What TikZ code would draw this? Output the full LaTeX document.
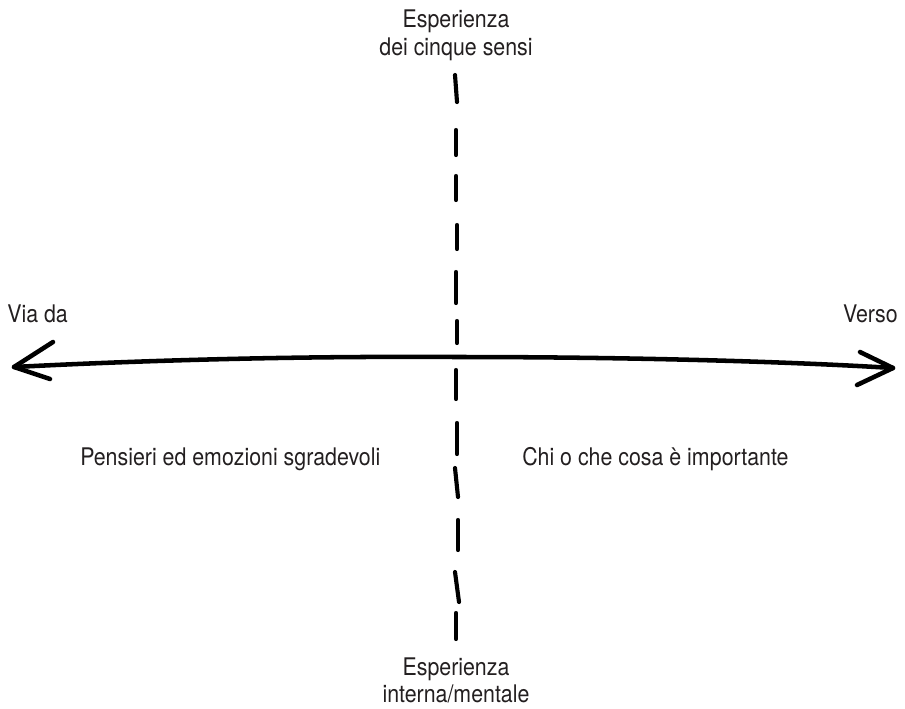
\documentclass[tikz,border=0pt]{standalone}
\usepackage{fontspec}
\setmainfont{TeX Gyre Heros}[FakeStretch=0.88]
\usepackage{xcolor}
\usetikzlibrary{positioning}
\definecolor{ink}{HTML}{231F20}

\begin{document}
\begin{tikzpicture}[x=0.75pt,y=-0.75pt]
\tikzstyle{lbl}=[inner sep=0pt,anchor=base,text=ink,font=\fontsize{18.2}{22}\selectfont]
\tikzstyle{stroke}=[line width=3.4pt,line cap=round,line join=round]
\tikzstyle{dashseg}=[line width=3.1pt,line cap=round]

\useasboundingbox (0,0) rectangle (905,708);

% Horizontal axis
\coordinate (lt) at (14,367);
\coordinate (lu) at (53,342);
\coordinate (ld) at (50,379);
\coordinate (mid) at (457,357);
\coordinate (rt) at (893,368);
\coordinate (ru) at (860,352);
\coordinate (rd) at (857,385);

\draw[stroke] (lt) .. controls (150,360) and (300,356) .. (mid)
  .. controls (620,357) and (780,361) .. (rt);
\draw[stroke] (lu) -- (lt) -- (ld);
\draw[stroke] (ru) -- (rt) -- (rd);

% Vertical axis (dashes)
\foreach \xa/\ya/\xb/\yb in {455/75/457/102, 456/130/456/155, 456/176/456/200,
  457/225/457/249, 456/272/456/303, 457/321/457/343, 456/370/456/399,
  457/423/457/454, 455/468/458/497, 458/520/458/550, 455/572/459/602,
  456/613/456/639}
  \draw[dashseg] (\xa,\ya) -- (\xb,\yb);

% Labels
\node[lbl] (top1) at (456,27) {Esperienza};
\node[lbl] (top2) at (456,55) {dei cinque sensi};
\node[lbl] (bot1) at (456,675) {Esperienza};
\node[lbl] (bot2) at (456,702) {interna/mentale};
\node[lbl,anchor=base west] (via) at (7,322) {Via da};
\node[lbl,anchor=base east] (verso) at (898,322) {Verso};
\node[lbl,anchor=base west] (away) at (80,465) {Pensieri ed emozioni sgradevoli};
\node[lbl,anchor=base west] (toward) at (522,465) {Chi o che cosa è importante};

\end{tikzpicture}
\end{document}
